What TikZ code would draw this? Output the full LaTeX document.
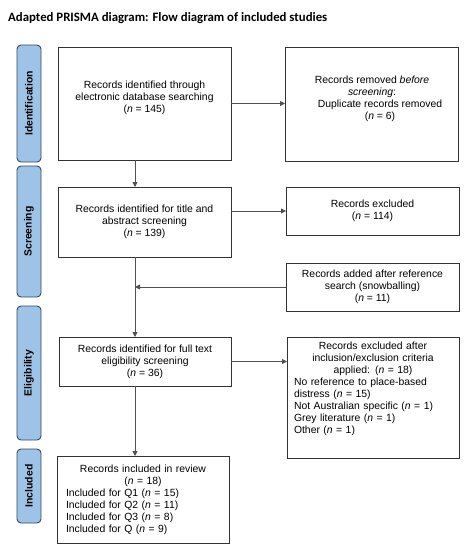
\documentclass[tikz,border=0pt]{standalone}
\usepackage{fontspec}
\setmainfont{Liberation Sans}
\newfontfamily\titlefont{Carlito}
\usetikzlibrary{arrows.meta}
\definecolor{stagefill}{HTML}{9DC3E6}
\definecolor{stageline}{HTML}{34495E}
\definecolor{arrowgray}{HTML}{505050}
\begin{document}
\begin{tikzpicture}[x=1pt,y=-1pt,
  every node/.style={font=\fontsize{10.4}{12}\selectfont},
  box/.style={draw=black!80,line width=0.8pt,inner sep=0pt,outer sep=0pt},
  stage/.style={draw=stageline,fill=stagefill,line width=0.9pt,rounded corners=4pt,
    minimum width=24pt,inner sep=0pt,outer sep=0pt},
  stagetext/.style={rotate=90,font=\bfseries\fontsize{10.4}{12}\selectfont},
  btext/.style={align=center,inner sep=0pt},
  conn/.style={draw=arrowgray,line width=0.8pt,-{Triangle[length=5pt,width=5pt]}}]
\useasboundingbox (0,0) rectangle (466,550);
% title
\node[anchor=base west,inner sep=0pt,font=\titlefont\bfseries\fontsize{12.8}{15}\selectfont] (title) at (8,21) {Adapted PRISMA diagram: Flow diagram of included studies};
% stage bars
\node[stage,minimum height=117pt] (s1) at (29,103.5) {};
\node[stagetext] (s1t) at (s1.center) {Identification};
\node[stage,minimum height=131pt] (s2) at (29,231.5) {};
\node[stagetext] (s2t) at (s2.center) {Screening};
\node[stage,minimum height=134pt] (s3) at (29,373) {};
\node[stagetext] (s3t) at (s3.center) {Eligibility};
\node[stage,minimum height=74pt] (s4) at (29,486) {};
\node[stagetext] (s4t) at (s4.center) {Included};
% boxes
\node[box,minimum width=173pt,minimum height=113pt] (b1) at (144.5,103.5) {};
\node[btext] (b1t) at (144.5,98) {Records identified through\\electronic database searching\\(\textit{n} = 145)};
\node[box,minimum width=173pt,minimum height=114pt] (b2) at (371.5,104) {};
\node[btext] (b2t) at (372,99) {Records removed \textit{before}\\\textit{screening}:\\\hspace*{16pt}Duplicate records removed\\\hspace*{16pt}(\textit{n} = 6)};
\node[box,minimum width=173pt,minimum height=70pt] (b3) at (144.5,222) {};
\node[btext] (b3t) at (b3.center) {Records identified for title and\\abstract screening\\(\textit{n} = 139)};
\node[box,minimum width=173pt,minimum height=48pt] (b4) at (372.5,211) {};
\node[btext] (b4t) at (b4.center) {Records excluded\\(\textit{n} = 114)};
\node[box,minimum width=173pt,minimum height=48pt] (b5) at (372.5,287) {};
\node[btext] (b5t) at (b5.center) {Records added after reference\\search (snowballing)\\(\textit{n} = 11)};
\node[box,minimum width=172pt,minimum height=49pt] (b6) at (145,361.5) {};
\node[btext] (b6t) at (b6.center) {Records identified for full text\\eligibility screening\\(\textit{n} = 36)};
\node[box,minimum width=172pt,minimum height=121pt] (b7) at (373,397.5) {};
\node[inner sep=0pt,text width=158pt,anchor=north] (b7t) at (373,341.5) {\centering Records excluded after\\inclusion/exclusion criteria\\applied: (\textit{n} = 18)\par\raggedright No reference to place-based\\distress (\textit{n} = 15)\\Not Australian specific (\textit{n} = 1)\\Grey literature (\textit{n} = 1)\\Other (\textit{n} = 1)\par};
\node[box,minimum width=172pt,minimum height=87pt] (b8) at (143,499.5) {};
\node[inner sep=0pt,text width=154pt] (b8t) at (143,499.5) {\centering Records included in review\\(\textit{n} = 18)\par\raggedright Included for Q1 (\textit{n} = 15)\\Included for Q2 (\textit{n} = 11)\\Included for Q3 (\textit{n} = 8)\\Included for Q (\textit{n} = 9)\par};
% connectors
\coordinate (trunk) at (135,0);
\coordinate (snow) at (trunk |- b5.west);
\draw[conn] (b1.south -| trunk) -- (b3.north -| trunk);
\draw[conn] (b3.south -| trunk) -- (b6.north -| trunk);
\draw[conn] (b6.south -| trunk) -- (b8.north -| trunk);
\draw[conn] (b5.west) -- (snow);
\draw[conn] (b1.east) -- (b2.west |- b1.east);
\draw[conn] (b3.east |- b4.west) -- (b4.west);
\draw[conn] (b6.east) -- (b7.west |- b6.east);
\end{tikzpicture}
\end{document}
